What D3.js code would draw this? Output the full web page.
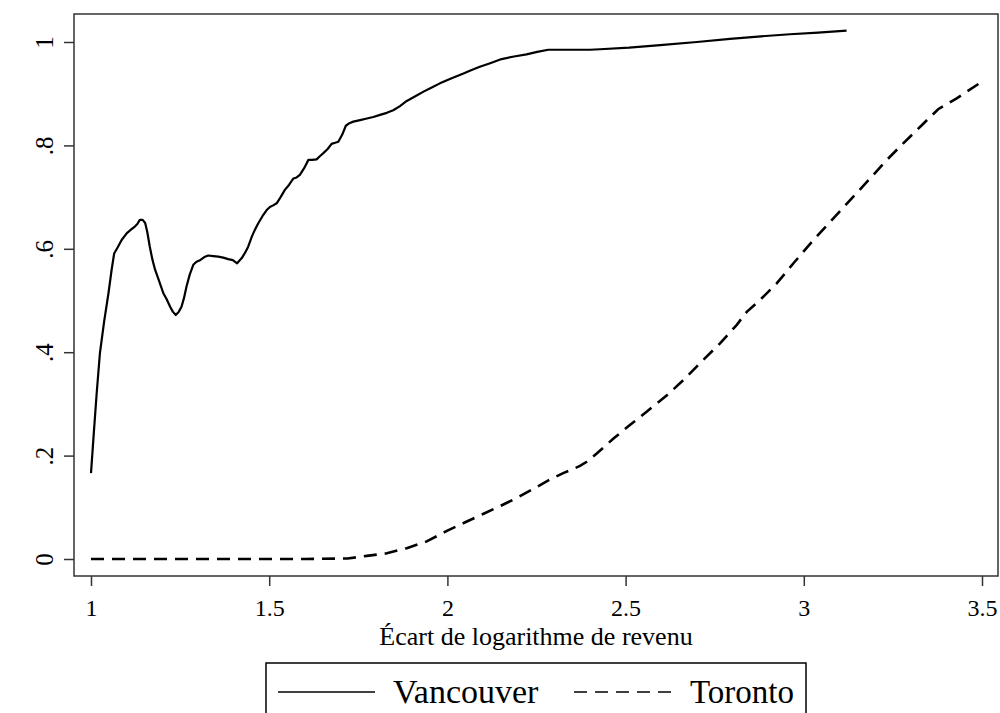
<!DOCTYPE html>
<html>
<head>
<meta charset="utf-8">
<script src="https://cdn.jsdelivr.net/npm/d3@7"></script>
<style>
  html, body { margin: 0; padding: 0; background: #fff; }
  svg { display: block; font-family: "Liberation Serif", "Times New Roman", serif; }
</style>
</head>
<body>
<svg id="chart" width="1000" height="713"></svg>
<script>
// ---- data ----
const xTicks = [1, 1.5, 2, 2.5, 3, 3.5];
const xTickLabels = ["1", "1.5", "2", "2.5", "3", "3.5"];
const yTicks = [0, 0.2, 0.4, 0.6, 0.8, 1];
const yTickLabels = ["0", ".2", ".4", ".6", ".8", "1"];
const xTitle = "Écart de logarithme de revenu";
const seriesNames = ["Vancouver", "Toronto"];

const vancouverX = [1.0, 1.008, 1.016, 1.025, 1.037, 1.049, 1.058, 1.065, 1.075, 1.086, 1.10, 1.112, 1.123, 1.13, 1.137, 1.145, 1.152, 1.158, 1.165, 1.172, 1.18, 1.19, 1.203, 1.212, 1.222, 1.23, 1.238, 1.246, 1.254, 1.261, 1.268, 1.277, 1.287, 1.296, 1.306, 1.318, 1.329, 1.343, 1.357, 1.371, 1.385, 1.398, 1.41, 1.423, 1.432, 1.441, 1.451, 1.46, 1.469, 1.481, 1.493, 1.502, 1.511, 1.521, 1.532, 1.544, 1.556, 1.568, 1.577, 1.586, 1.598, 1.61, 1.62, 1.633, 1.642, 1.652, 1.664, 1.675, 1.685, 1.694, 1.705, 1.715, 1.725, 1.736, 1.755, 1.774, 1.792, 1.811, 1.83, 1.848, 1.867, 1.886, 1.91, 1.933, 1.956, 1.979, 2.012, 2.045, 2.068, 2.091, 2.12, 2.152, 2.187, 2.222, 2.252, 2.283, 2.34, 2.40, 2.428, 2.51, 2.597, 2.70, 2.793, 2.88, 2.961, 3.04, 3.12];
const vancouverY = [0.166, 0.245, 0.321, 0.398, 0.46, 0.514, 0.56, 0.591, 0.603, 0.617, 0.630, 0.637, 0.643, 0.648, 0.656, 0.656, 0.650, 0.632, 0.604, 0.58, 0.559, 0.54, 0.514, 0.503, 0.488, 0.478, 0.472, 0.478, 0.488, 0.505, 0.527, 0.55, 0.569, 0.575, 0.578, 0.584, 0.587, 0.586, 0.585, 0.583, 0.580, 0.578, 0.572, 0.582, 0.592, 0.604, 0.623, 0.637, 0.649, 0.663, 0.675, 0.681, 0.684, 0.688, 0.700, 0.714, 0.724, 0.736, 0.738, 0.743, 0.756, 0.772, 0.772, 0.773, 0.779, 0.785, 0.793, 0.803, 0.805, 0.807, 0.821, 0.838, 0.843, 0.846, 0.849, 0.852, 0.855, 0.859, 0.863, 0.868, 0.876, 0.886, 0.895, 0.904, 0.912, 0.920, 0.930, 0.939, 0.946, 0.952, 0.959, 0.967, 0.972, 0.976, 0.981, 0.985, 0.985, 0.985, 0.986, 0.989, 0.994, 1.0, 1.006, 1.011, 1.015, 1.018, 1.022];

const torontoX = [1.0, 1.2, 1.4, 1.6, 1.72, 1.774, 1.83, 1.886, 1.942, 2.0, 2.05, 2.1, 2.15, 2.2, 2.25, 2.288, 2.325, 2.372, 2.391, 2.419, 2.466, 2.512, 2.559, 2.615, 2.662, 2.709, 2.765, 2.812, 2.84, 2.877, 2.924, 2.971, 3.027, 3.083, 3.13, 3.195, 3.233, 3.279, 3.331, 3.377, 3.429, 3.499];
const torontoY = [0, 0, 0, 0, 0.001, 0.006, 0.011, 0.021, 0.034, 0.055, 0.071, 0.087, 0.103, 0.12, 0.139, 0.154, 0.166, 0.180, 0.188, 0.204, 0.233, 0.259, 0.285, 0.316, 0.346, 0.379, 0.417, 0.453, 0.478, 0.501, 0.533, 0.572, 0.617, 0.659, 0.694, 0.743, 0.772, 0.804, 0.839, 0.870, 0.891, 0.923];

// ---- layout ----
const svg = d3.select("#chart");
const frame = { left: 74, right: 998, top: 14, bottom: 576 };
const x = d3.scaleLinear().domain([1, 3.5]).range([91, 982]);
const y = d3.scaleLinear().domain([0, 1]).range([559, 42]);

// plot frame
svg.append("rect")
  .attr("x", frame.left).attr("y", frame.top)
  .attr("width", frame.right - frame.left).attr("height", frame.bottom - frame.top)
  .attr("fill", "none").attr("stroke", "#333").attr("stroke-width", 1.5);

// x axis
const xAxis = svg.append("g").attr("transform", `translate(0,${frame.bottom})`)
  .call(d3.axisBottom(x).tickValues(xTicks).tickSize(10).tickPadding(0)
    .tickFormat((d, i) => xTickLabels[i]));
xAxis.select(".domain").remove();
xAxis.selectAll(".tick line").attr("stroke", "#333").attr("stroke-width", 1.5);
xAxis.selectAll(".tick text").attr("font-size", 24).attr("fill", "#000")
  .attr("font-family", "Liberation Serif, serif").attr("y", 40).attr("dy", 0);

// y axis
const yAxis = svg.append("g").attr("transform", `translate(${frame.left},0)`)
  .call(d3.axisLeft(y).tickValues(yTicks).tickSize(10).tickFormat((d, i) => yTickLabels[i]));
yAxis.select(".domain").remove();
yAxis.selectAll(".tick line").attr("stroke", "#333").attr("stroke-width", 1.5);
yAxis.selectAll(".tick text")
  .attr("font-size", 25).attr("fill", "#000")
  .attr("font-family", "Liberation Serif, serif")
  .attr("text-anchor", "middle")
  .attr("dy", 0)
  .attr("x", null)
  .attr("transform", `translate(${53 - frame.left},0) rotate(-90)`);

// axis title
svg.append("text")
  .attr("x", (frame.left + frame.right) / 2).attr("y", 645)
  .attr("text-anchor", "middle").attr("font-size", 26).attr("fill", "#000")
  .text(xTitle);

// lines
const line = d3.line().x(d => x(d[0])).y(d => y(d[1]));
const vanData = vancouverX.map((v, i) => [v, vancouverY[i]]);
const torData = torontoX.map((v, i) => [v, torontoY[i]]);

svg.append("path").datum(vanData).attr("d", line)
  .attr("fill", "none").attr("stroke", "#000").attr("stroke-width", 2.2)
  .attr("stroke-linejoin", "round");
svg.append("path").datum(torData).attr("d", line)
  .attr("fill", "none").attr("stroke", "#000").attr("stroke-width", 2.6)
  .attr("stroke-dasharray", "13,8");

// legend
const lg = svg.append("g");
lg.append("rect").attr("x", 266).attr("y", 663).attr("width", 540).attr("height", 80)
  .attr("fill", "#fff").attr("stroke", "#000").attr("stroke-width", 1.5);
lg.append("line").attr("x1", 278).attr("x2", 375).attr("y1", 692).attr("y2", 692)
  .attr("stroke", "#000").attr("stroke-width", 1.6);
lg.append("text").attr("x", 393).attr("y", 703).attr("font-size", 34).attr("fill", "#000").text(seriesNames[0]);
lg.append("line").attr("x1", 574).attr("x2", 674).attr("y1", 692).attr("y2", 692)
  .attr("stroke", "#000").attr("stroke-width", 1.6).attr("stroke-dasharray", "13,8");
lg.append("text").attr("x", 690).attr("y", 703).attr("font-size", 33).attr("fill", "#000").text(seriesNames[1]);
</script>
</body>
</html>
